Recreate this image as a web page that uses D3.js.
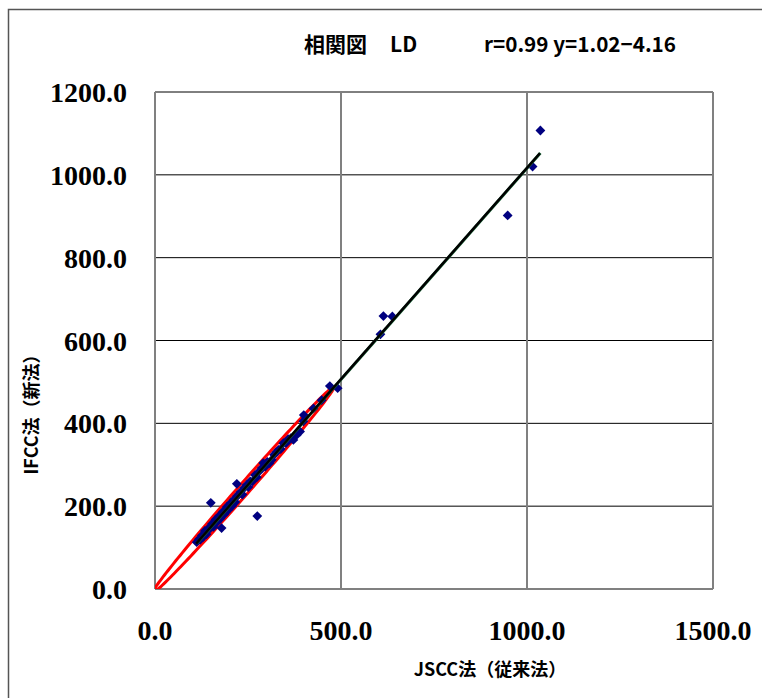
<!DOCTYPE html>
<html>
<head>
<meta charset="utf-8">
<script src="https://cdn.jsdelivr.net/npm/d3@7"></script>
<style>
  body { margin: 0; background: #fff; }
</style>
</head>
<body>
<div id="chart"></div>
<script>
// tick values
const xTicks = [0, 500, 1000, 1500];
const yTicks = [0, 200, 400, 600, 800, 1000, 1200];

// JSCC (x) vs IFCC (y) LD values
const jsccValues = [112, 118, 122, 126, 130, 134, 138, 142, 146, 150, 153, 157, 160, 163, 166, 170, 173, 176, 180, 183,
  186, 190, 193, 196, 200, 204, 208, 212, 216, 220, 225, 230, 235, 240, 246, 251, 256, 262, 269, 274,
  280, 287, 291, 296, 302, 308, 314, 320, 326, 332, 338, 345, 352, 358, 365, 372, 381, 390, 400, 399,
  426, 448, 470, 491,
  150, 220, 179, 275, 606, 614, 638, 948, 1015, 1036];
const ifccValues = [113, 120, 119, 129, 126, 140, 132, 145, 144, 150, 157, 150, 162, 168, 161, 172, 177, 170, 182, 187,
  180, 192, 198, 190, 202, 208, 201, 216, 210, 224, 228, 234, 228, 244, 251, 246, 260, 260, 275, 270,
  284, 292, 304, 295, 307, 304, 312, 324, 330, 336, 338, 352, 352, 362, 364, 360, 372, 380, 420, 405,
  436, 456, 490, 485,
  208, 254, 147, 176, 615, 659, 658, 902, 1020, 1107];

// regression y = slope * x + intercept
const slope = 1.02;
const intercept = -4.16;

// red ellipse (data units): centre, half axes, angle of the long axis
const ellipseCenter = [238, 240];
const ellipseAxes = [348, 14];
const ellipseAngle = Math.atan(1.02);

function init() {
    const w = 762;
    const h = 698;

    const xScale = d3.scaleLinear().domain([0, 1500]).range([155, 713]);
    const yScale = d3.scaleLinear().domain([0, 1200]).range([589, 92]);

    const svg = d3.select("#chart")
        .append("svg")
        .attr("width", w)
        .attr("height", h);

    // outer frame
    svg.append("rect")
        .attr("x", 8.5).attr("y", 9.5)
        .attr("width", 770).attr("height", 700)
        .attr("fill", "none")
        .attr("stroke", "#555")
        .attr("stroke-width", 1.5);

    svg.append("clipPath").attr("id", "plot")
        .append("rect")
        .attr("x", xScale(0)).attr("y", yScale(1200))
        .attr("width", xScale(1500) - xScale(0))
        .attr("height", yScale(0) - yScale(1200));

    // horizontal grid
    svg.append("g")
        .selectAll("line")
        .data(yTicks.filter(d => d > 0))
        .enter()
        .append("line")
        .attr("x1", xScale(0)).attr("x2", xScale(1500))
        .attr("y1", d => yScale(d)).attr("y2", d => yScale(d))
        .attr("stroke", "#000")
        .attr("stroke-width", 1);

    // vertical grid
    svg.append("g")
        .selectAll("line")
        .data(xTicks.filter(d => d > 0))
        .enter()
        .append("line")
        .attr("x1", d => xScale(d)).attr("x2", d => xScale(d))
        .attr("y1", yScale(0)).attr("y2", yScale(1200))
        .attr("stroke", "#808080")
        .attr("stroke-width", 2);

    // left and bottom axis lines
    svg.append("line")
        .attr("x1", xScale(0)).attr("x2", xScale(0))
        .attr("y1", yScale(0)).attr("y2", yScale(1200))
        .attr("stroke", "#808080").attr("stroke-width", 2);
    svg.append("line")
        .attr("x1", xScale(0)).attr("x2", xScale(1500))
        .attr("y1", yScale(0)).attr("y2", yScale(0))
        .attr("stroke", "#808080").attr("stroke-width", 2);

    // tick labels
    svg.append("g")
        .selectAll("text")
        .data(yTicks)
        .enter()
        .append("text")
        .attr("x", 127)
        .attr("y", d => yScale(d) + 10)
        .attr("text-anchor", "end")
        .attr("font-family", "Liberation Serif")
        .attr("font-weight", "bold")
        .attr("font-size", "28px")
        .text(d => d3.format(".1f")(d));

    svg.append("g")
        .selectAll("text")
        .data(xTicks)
        .enter()
        .append("text")
        .attr("x", d => xScale(d))
        .attr("y", 640)
        .attr("text-anchor", "middle")
        .attr("font-family", "Liberation Serif")
        .attr("font-weight", "bold")
        .attr("font-size", "28px")
        .text(d => d3.format(".1f")(d));

    // red ellipse
    const ca = Math.cos(ellipseAngle), sa = Math.sin(ellipseAngle);
    const ellipsePts = d3.range(0, 360, 2).map(t => {
        const r = t * Math.PI / 180;
        const u = ellipseAxes[0] * Math.cos(r);
        const v = ellipseAxes[1] * Math.sin(r);
        return [ellipseCenter[0] + u * ca - v * sa, ellipseCenter[1] + u * sa + v * ca];
    });
    svg.append("path")
        .datum(ellipsePts)
        .attr("clip-path", "url(#plot)")
        .attr("fill", "none")
        .attr("stroke", "#ff0000")
        .attr("stroke-width", 3)
        .attr("d", d3.line().x(d => xScale(d[0])).y(d => yScale(d[1])).curve(d3.curveLinearClosed));

    // points
    const points = jsccValues.map((x, i) => ({ x: x, y: ifccValues[i] }));
    svg.append("g")
        .selectAll("path")
        .data(points)
        .enter()
        .append("path")
        .attr("d", d3.symbol().type(d3.symbolSquare).size(48))
        .attr("transform", d => `translate(${xScale(d.x)},${yScale(d.y)}) rotate(45)`)
        .attr("fill", "#000080");

    // regression line
    const xMin = d3.min(jsccValues), xMax = d3.max(jsccValues);
    const reg = [[xMin, slope * xMin + intercept], [xMax, slope * xMax + intercept]];
    svg.append("path")
        .datum(reg)
        .attr("fill", "none")
        .attr("stroke", "#1d6b3c")
        .attr("stroke-width", 3)
        .attr("d", d3.line().x(d => xScale(d[0])).y(d => yScale(d[1])));
    svg.append("path")
        .datum(reg)
        .attr("fill", "none")
        .attr("stroke", "#000")
        .attr("stroke-width", 2.5)
        .attr("transform", "translate(-0.5,0.2)")
        .attr("d", d3.line().x(d => xScale(d[0])).y(d => yScale(d[1])));

    // title
    svg.append("text")
        .attr("x", 304).attr("y", 52)
        .attr("font-family", "Noto Sans CJK JP")
        .attr("font-weight", "bold")
        .attr("font-size", "21px")
        .text("相関図");
    svg.append("text")
        .attr("x", 390).attr("y", 52)
        .attr("font-family", "Noto Sans CJK JP")
        .attr("font-weight", "bold")
        .attr("font-size", "21px")
        .text("LD");
    svg.append("text")
        .attr("x", 484).attr("y", 52)
        .attr("font-family", "Noto Sans CJK JP")
        .attr("font-weight", "bold")
        .attr("font-size", "21px")
        .attr("textLength", 192)
        .attr("lengthAdjust", "spacingAndGlyphs")
        .text("r=0.99 y=1.02−4.16");

    // axis titles
    svg.append("text")
        .attr("x", 490).attr("y", 676)
        .attr("text-anchor", "middle")
        .attr("font-family", "Noto Sans CJK JP")
        .attr("font-weight", "bold")
        .attr("font-size", "18px")
        .text("JSCC法（従来法）");
    svg.append("text")
        .attr("transform", "translate(38,410) rotate(-90)")
        .attr("text-anchor", "middle")
        .attr("font-family", "Noto Sans CJK JP")
        .attr("font-weight", "bold")
        .attr("font-size", "18px")
        .text("IFCC法（新法）");
}

window.onload = init;
</script>
</body>
</html>
